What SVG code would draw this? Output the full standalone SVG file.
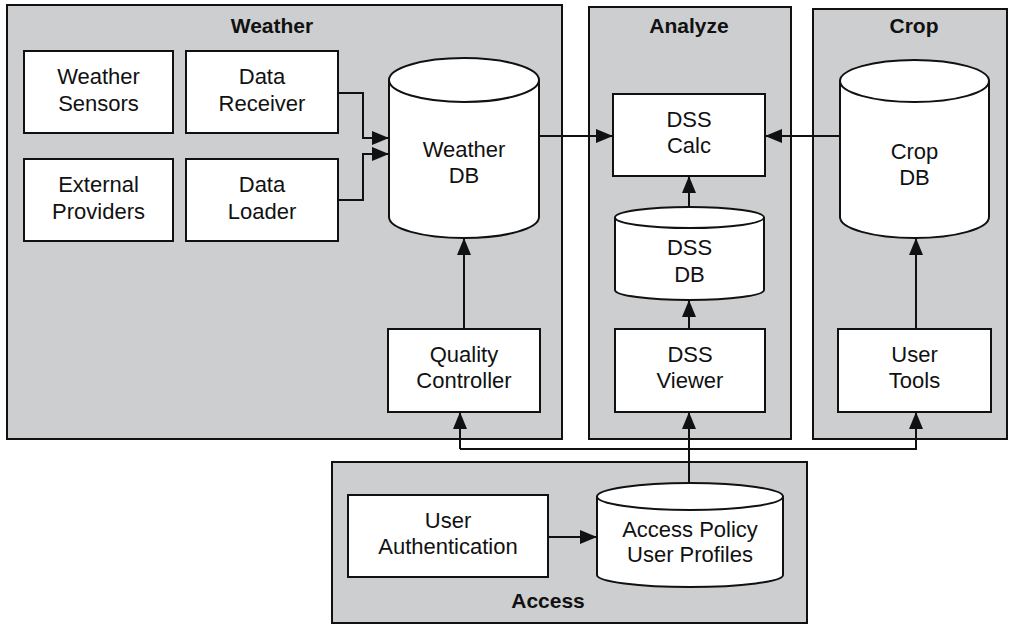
<svg xmlns="http://www.w3.org/2000/svg" width="1015" height="625" viewBox="0 0 1015 625">
<style>
.grp{fill:#cdced0;stroke:#111;stroke-width:2}
.box{fill:#fff;stroke:#111;stroke-width:2}
.t{font-family:"Liberation Sans",Arial,sans-serif;font-size:22px;fill:#111;text-anchor:middle}
.h{font-family:"Liberation Sans",Arial,sans-serif;font-size:21px;font-weight:bold;fill:#111;text-anchor:middle}
.c{fill:none;stroke:#111;stroke-width:2}
</style>
<defs>
<marker id="ah" markerWidth="17" markerHeight="14" refX="17" refY="7" orient="auto" markerUnits="userSpaceOnUse">
<path d="M0,0 L17,7 L0,14 Z" fill="#111"/>
</marker>
</defs>
<rect width="1015" height="625" fill="#fff"/>
<g id="weather">
<rect class="grp" x="7" y="5" width="555" height="434"/>
<text class="h" x="272" y="33">Weather</text>
</g>
<g id="analyze">
<rect class="grp" x="589" y="7" width="202" height="432"/>
<text class="h" x="689" y="33">Analyze</text>
</g>
<g id="crop">
<rect class="grp" x="813" y="9" width="194" height="430"/>
<text class="h" x="914" y="33">Crop</text>
</g>
<g id="access">
<rect class="grp" x="332" y="462" width="475" height="161"/>
<text class="h" x="548" y="608">Access</text>
</g>
<g id="weather-sensors">
<rect class="box" x="24" y="51" width="149" height="82"/>
<text class="t" x="98.5" y="83.5">Weather</text>
<text class="t" x="98.5" y="110.5">Sensors</text>
</g>
<g id="data-receiver">
<rect class="box" x="186" y="51" width="152" height="82"/>
<text class="t" x="262" y="83.5">Data</text>
<text class="t" x="262" y="110.5">Receiver</text>
</g>
<g id="external-providers">
<rect class="box" x="24" y="159" width="149" height="82"/>
<text class="t" x="98.5" y="191.5">External</text>
<text class="t" x="98.5" y="218.5">Providers</text>
</g>
<g id="data-loader">
<rect class="box" x="186" y="159" width="152" height="82"/>
<text class="t" x="262" y="191.5">Data</text>
<text class="t" x="262" y="218.5">Loader</text>
</g>
<g id="weather-db">
<path class="box" d="M389,80 A75,22 0 0 1 539,80 L539,217 A75,21 0 0 1 389,217 Z"/>
<path class="c" d="M389,80 A75,22 0 0 0 539,80"/>
<text class="t" x="464" y="157">Weather</text>
<text class="t" x="464" y="183">DB</text>
</g>
<g id="quality-controller">
<rect class="box" x="388" y="329" width="152" height="83"/>
<text class="t" x="464" y="361.5">Quality</text>
<text class="t" x="464" y="388">Controller</text>
</g>
<g id="dss-calc">
<rect class="box" x="613" y="94" width="152" height="82"/>
<text class="t" x="689" y="126.5">DSS</text>
<text class="t" x="689" y="153">Calc</text>
</g>
<g id="dss-db">
<path class="box" d="M615,217.5 A74.5,10.5 0 0 1 764,217.5 L764,290 A74.5,10 0 0 1 615,290 Z"/>
<path class="c" d="M615,217.5 A74.5,10.5 0 0 0 764,217.5"/>
<text class="t" x="689.5" y="255">DSS</text>
<text class="t" x="689.5" y="282">DB</text>
</g>
<g id="dss-viewer">
<rect class="box" x="615" y="329" width="150" height="83"/>
<text class="t" x="690" y="361.5">DSS</text>
<text class="t" x="690" y="388">Viewer</text>
</g>
<g id="crop-db">
<path class="box" d="M840,81 A74.5,21 0 0 1 989,81 L989,217 A74.5,21 0 0 1 840,217 Z"/>
<path class="c" d="M840,81 A74.5,21 0 0 0 989,81"/>
<text class="t" x="914.5" y="159">Crop</text>
<text class="t" x="914.5" y="185">DB</text>
</g>
<g id="user-tools">
<rect class="box" x="838" y="329" width="153" height="83"/>
<text class="t" x="914.5" y="361.5">User</text>
<text class="t" x="914.5" y="388">Tools</text>
</g>
<g id="user-authentication">
<rect class="box" x="348" y="495" width="200" height="82"/>
<text class="t" x="448" y="527.5">User</text>
<text class="t" x="448" y="554">Authentication</text>
</g>
<g id="access-db">
<path class="box" d="M597,496.5 A93,13.5 0 0 1 783,496.5 L783,575 A93,12 0 0 1 597,575 Z"/>
<path class="c" d="M597,496.5 A93,13.5 0 0 0 783,496.5"/>
<text class="t" x="690" y="537">Access Policy</text>
<text class="t" x="690" y="562">User Profiles</text>
</g>
<g id="connectors">
<path class="c" d="M338,93 H363 V138 H389" marker-end="url(#ah)"/>
<path class="c" d="M338,200 H363 V154 H389" marker-end="url(#ah)"/>
<path class="c" d="M539,136 H613" marker-end="url(#ah)"/>
<path class="c" d="M840,136 H765" marker-end="url(#ah)"/>
<path class="c" d="M689,207 V176" marker-end="url(#ah)"/>
<path class="c" d="M689,329 V300" marker-end="url(#ah)"/>
<path class="c" d="M464,329 V238" marker-end="url(#ah)"/>
<path class="c" d="M916,329 V238" marker-end="url(#ah)"/>
<path class="c" d="M548,537 H597" marker-end="url(#ah)"/>
<path class="c" d="M689,483 V449"/>
<path class="c" d="M460,449 H917"/>
<path class="c" d="M460,449 V412" marker-end="url(#ah)"/>
<path class="c" d="M689,449 V412" marker-end="url(#ah)"/>
<path class="c" d="M916,449 V412" marker-end="url(#ah)"/>
</g>
</svg>
